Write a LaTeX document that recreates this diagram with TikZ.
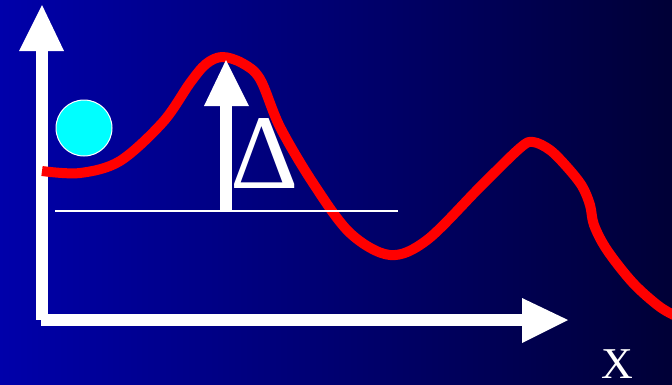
\documentclass[tikz,border=0pt]{standalone}
\usepackage{fontspec}
\setmainfont{Liberation Serif}
\begin{document}
\begin{tikzpicture}[x=1pt,y=-1pt,
  arrowpart/.style={fill=white,draw=none},
  curve/.style={draw={rgb,255:red,255;green,0;blue,0},line width=10pt,line join=round}]
\definecolor{bgleft}{RGB}{0,0,170}
\definecolor{bgright}{RGB}{0,0,54}
\definecolor{ballcol}{RGB}{0,255,255}
\shade[left color=bgleft,right color=bgright] (0,0) rectangle (672,384);
\useasboundingbox (0,0) rectangle (672,384);
% vertical axis
\fill[arrowpart] (36,51) rectangle (48,320);
\fill[arrowpart] (19,51) -- (64,51) -- (42,5) -- cycle;
% horizontal axis
\fill[arrowpart] (41,314) rectangle (522,326);
\fill[arrowpart] (522,298) -- (522,343) -- (568,320) -- cycle;
% red energy curve
\draw[curve] plot[smooth,tension=0.55] coordinates {
 (42,171) (80,173) (120,161) (163,122) (190,83) (206,64) (222,57) (242,63) (260,79)
 (280,127) (313,183) (350,233) (390,255) (427,240) (480,187) (520,148) (533,142)
 (550,150) (567,167) (582,186) (590,205) (594,225) (607,250) (633,283) (660,307) (680,318)};
% ball
\node[circle,fill=ballcol,draw=white,line width=1pt,minimum size=56pt,inner sep=0pt] (ball) at (84,128) {};
% baseline
\coordinate (l1) at (55,211);
\coordinate (l2) at (398,211);
\draw[white,line width=1.5pt] (l1) -- (l2);
% barrier arrow
\fill[arrowpart] (220,106) rectangle (232,211);
\fill[arrowpart] (204,106) -- (249,106) -- (226,60) -- cycle;
% labels
\node[text=white,inner sep=0pt,anchor=base,text depth=0pt,font=\fontsize{106}{106}\selectfont] (delta) at (265,188) {Δ};
\node[text=white,inner sep=0pt,anchor=base,text depth=0pt,font=\fontsize{44}{44}\selectfont] (xlab) at (617,378) {X};
\end{tikzpicture}
\end{document}
